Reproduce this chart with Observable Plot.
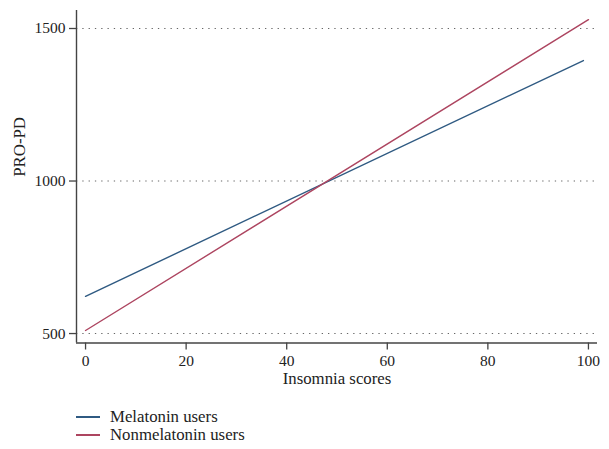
<!DOCTYPE html>
<html>
<head>
<meta charset="utf-8">
<script src="https://cdn.jsdelivr.net/npm/d3@7"></script>
<script src="https://cdn.jsdelivr.net/npm/@observablehq/plot@0.6"></script>
<style>
  html, body { margin: 0; padding: 0; background: #fff; }
  #chart { width: 609px; }
  .legend { font-family: "Liberation Serif", serif; font-size: 16.8px; color: #222; margin-left: 76px; margin-top: 13px; }
  .legend .row { height: 18px; display: flex; align-items: center; }
  .legend .sw { width: 24px; height: 1.4px; margin-right: 10px; }
</style>
</head>
<body>
<div id="chart"></div>
<script>
// Data
const seriesNames = ["Melatonin users", "Nonmelatonin users"];
const seriesColors = ["#2f5a82", "#ad4560"];
const melatoninX = [0, 99];
const melatoninY = [622, 1395];
const nonmelatoninX = [0, 100];
const nonmelatoninY = [510, 1529];
const xTicks = [0, 20, 40, 60, 80, 100];
const yTicks = [500, 1000, 1500];

const xDomain = [-1.8, 101.8];
const yDomain = [469, 1559];

const rows = [];
melatoninX.forEach((x, i) => rows.push({series: seriesNames[0], x, y: melatoninY[i]}));
nonmelatoninX.forEach((x, i) => rows.push({series: seriesNames[1], x, y: nonmelatoninY[i]}));

const chart = Plot.plot({
  width: 609,
  height: 395,
  marginLeft: 76,
  marginRight: 12,
  marginTop: 10,
  marginBottom: 52.5,
  style: {fontFamily: "Liberation Serif, serif", fontSize: "15px", color: "#222", background: "#fff"},
  x: {domain: xDomain},
  y: {domain: yDomain},
  color: {domain: seriesNames, range: seriesColors},
  marks: [
    Plot.ruleY(yTicks, {stroke: "#666", strokeDasharray: "1.3,5", strokeWidth: 1.1}),
    Plot.axisY({ticks: yTicks, tickFormat: d => String(d), tickSize: 7, tickPadding: 4, fontSize: 15.5, label: null, stroke: "#444", strokeWidth: 1.3}),
    Plot.axisX({ticks: xTicks, tickFormat: d => String(d), tickSize: 7, tickPadding: 5, fontSize: 15.5, label: null, stroke: "#444", strokeWidth: 1.3}),
    Plot.ruleX([xDomain[0]], {stroke: "#444", strokeWidth: 1.4}),
    Plot.ruleY([yDomain[0]], {stroke: "#444", strokeWidth: 1.4}),
    Plot.line(rows, {x: "x", y: "y", z: "series", stroke: "series", strokeWidth: 1.4}),
    Plot.text(["PRO-PD"], {text: d => d, frameAnchor: "left", rotate: -90, dx: -57, fontSize: 16.8, fill: "#222"}),
    Plot.text(["Insomnia scores"], {text: d => d, frameAnchor: "bottom", dy: 40.5, fontSize: 16.8, fill: "#222"})
  ]
});
document.getElementById("chart").appendChild(chart);

const legend = document.createElement("div");
legend.className = "legend";
seriesNames.forEach((name, i) => {
  const row = document.createElement("div");
  row.className = "row";
  const sw = document.createElement("span");
  sw.className = "sw";
  sw.style.background = seriesColors[i];
  const label = document.createElement("span");
  label.textContent = name;
  row.appendChild(sw);
  row.appendChild(label);
  legend.appendChild(row);
});
document.getElementById("chart").appendChild(legend);
</script>
</body>
</html>
